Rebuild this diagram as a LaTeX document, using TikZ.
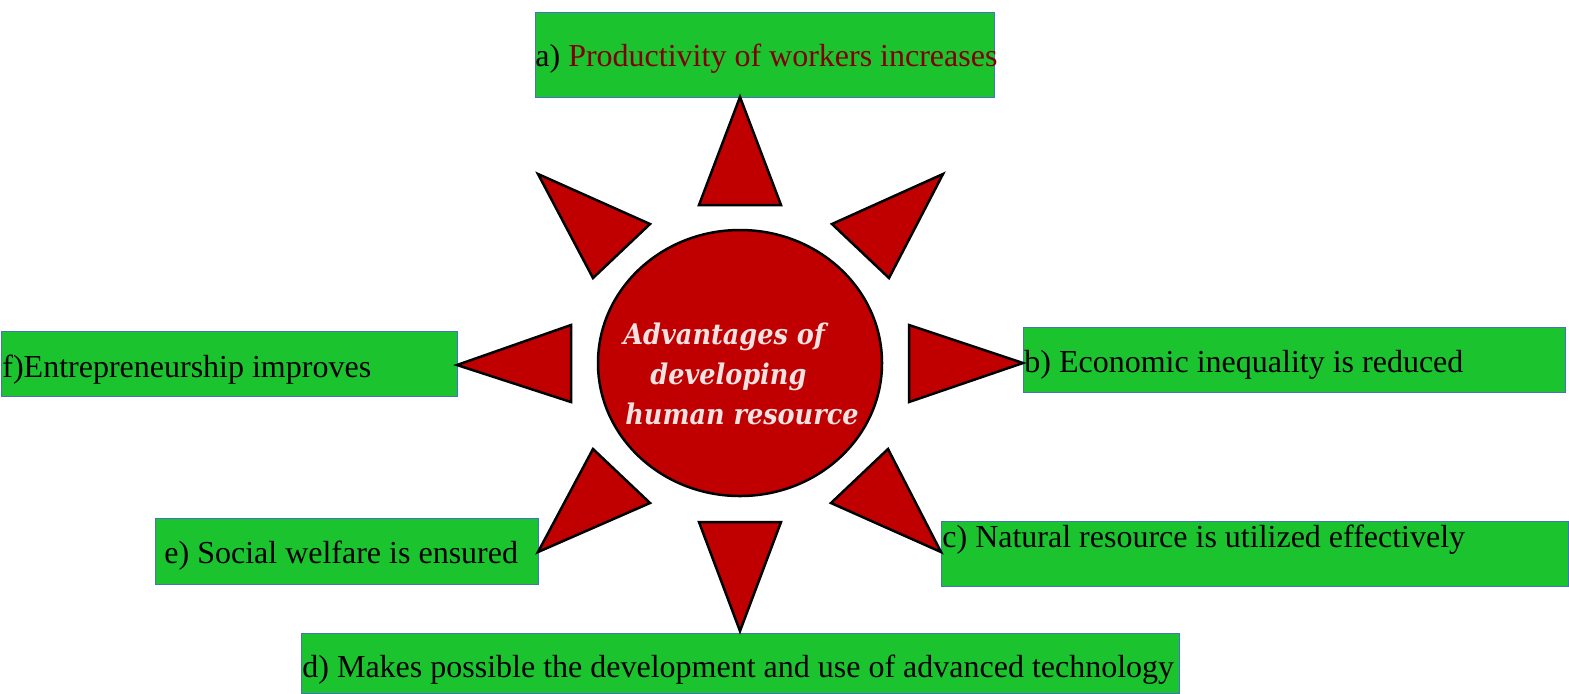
\documentclass[tikz,border=0pt]{standalone}
\usepackage{fontspec}
\setmainfont{Liberation Serif}
\newfontfamily\hubfont{DejaVu Serif Condensed}
\definecolor{boxgreen}{HTML}{1BC42E}
\definecolor{boxline}{HTML}{4472C4}
\definecolor{sunred}{HTML}{C00000}
\definecolor{darkred}{HTML}{800000}
\definecolor{hubtext}{HTML}{F2E2E2}
\tikzset{
  box/.style={fill=boxgreen, draw=boxline, line width=0.4pt},
  ray/.style={fill=sunred, draw=black, line width=1.25pt},
  item/.style={anchor=base west, inner sep=0pt, font=\fontsize{16}{19}\selectfont}
}
\begin{document}
\begin{tikzpicture}[x=0.5pt, y=-0.5pt]
\useasboundingbox (0,0) rectangle (1569,693);
% green boxes
\filldraw[box] (535,12) rectangle (994,97);
\filldraw[box] (1023,327) rectangle (1565,392);
\filldraw[box] (941,521) rectangle (1568,586);
\filldraw[box] (301,633) rectangle (1179,693);
\filldraw[box] (155,518) rectangle (538,584);
\filldraw[box] (1,331) rectangle (457,396);
% rays round the hub
\filldraw[ray] (740,97) -- (781,205) -- (699,205) -- cycle;
\filldraw[ray] (943,174) -- (889,278) -- (832,224) -- cycle;
\filldraw[ray] (1023,363) -- (909,402) -- (909,325) -- cycle;
\filldraw[ray] (888,449) -- (941,552) -- (831,503) -- cycle;
\filldraw[ray] (740,631) -- (699,522) -- (781,522) -- cycle;
\filldraw[ray] (593,449) -- (650,503) -- (538,552) -- cycle;
\filldraw[ray] (457,365) -- (571,325) -- (571,402) -- cycle;
\filldraw[ray] (538,174) -- (650,224) -- (593,278) -- cycle;
% hub
\filldraw[ray] (740,363) ellipse [x radius=142, y radius=133];
\node[anchor=base west, inner sep=0pt, align=left, text=hubtext,
  font=\hubfont\bfseries\itshape\fontsize{14.2}{19.8}\selectfont] (hub) at (623,424)
  {Advantages of\\\hspace*{13.5pt}developing\\\hspace*{1pt}human resource};
% items
\node[item] (adv-a) at (535,66) {a) \textcolor{darkred}{Productivity of workers increases}};
\node[item] (adv-b) at (1024,372) {b) Economic inequality is reduced};
\node[item] (adv-c) at (942,547) {c) Natural resource is utilized effectively};
\node[item] (adv-d) at (302,677) {d) Makes possible the development and use of advanced technology};
\node[item] (adv-e) at (164,563) {e) Social welfare is ensured};
\node[item] (adv-f) at (2,377) {f)Entrepreneurship improves};
\end{tikzpicture}
\end{document}
